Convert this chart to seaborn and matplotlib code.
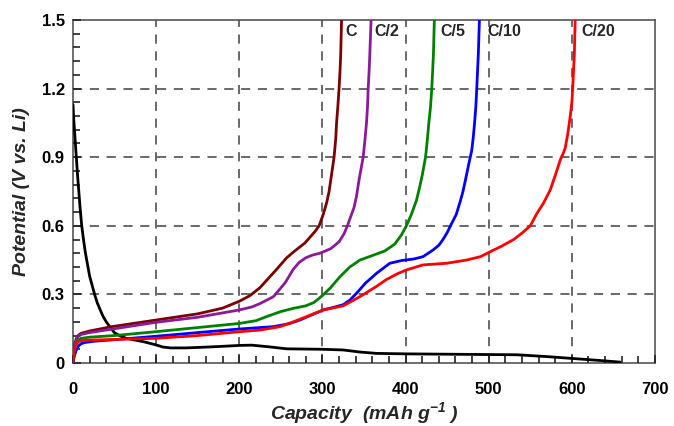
import matplotlib
matplotlib.use("Agg")
import matplotlib.pyplot as plt
import seaborn as sns
import numpy as np
import pandas as pd
from matplotlib.ticker import MultipleLocator, FuncFormatter

# ---- data (capacity mAh/g, potential V) ----
black_x = [0, 1, 2.5, 4, 5.5, 7, 8.5, 10.5, 13, 15, 17.5, 20, 23, 26, 29, 33, 36, 40, 45, 50, 57, 64, 75, 85, 100, 108, 117, 135, 150, 175, 201, 215, 235, 257, 300, 325, 345, 365, 400, 465, 534, 570, 600, 630, 658]
black_y = [1.13, 1.06, 0.98, 0.9, 0.82, 0.75, 0.68, 0.6, 0.53, 0.48, 0.43, 0.38, 0.34, 0.3, 0.265, 0.23, 0.205, 0.18, 0.155, 0.132, 0.118, 0.108, 0.1, 0.093, 0.079, 0.07, 0.066, 0.066, 0.068, 0.072, 0.077, 0.078, 0.071, 0.062, 0.06, 0.057, 0.048, 0.042, 0.04, 0.038, 0.036, 0.028, 0.02, 0.012, 0.004]

c1_x = [0, 1, 2, 3.5, 5, 7, 10, 20, 45, 100, 150, 180, 200, 213, 225, 235, 245, 257, 265, 272, 279, 285, 291, 296, 301, 305, 308, 310, 312, 314, 316, 317, 318.5, 320, 321.2, 322, 323]
c1_y = [0, 0.05, 0.08, 0.102, 0.115, 0.123, 0.13, 0.14, 0.158, 0.188, 0.215, 0.24, 0.27, 0.295, 0.33, 0.37, 0.41, 0.46, 0.485, 0.505, 0.525, 0.55, 0.575, 0.6, 0.65, 0.7, 0.75, 0.8, 0.85, 0.9, 0.98, 1.05, 1.12, 1.2, 1.28, 1.35, 1.5]

c2_x = [0, 1, 2, 3.5, 5, 7, 10, 20, 50, 100, 150, 200, 215, 225, 241, 248, 255, 260, 265, 272, 280, 288, 297, 310, 320, 326, 330, 334, 338, 341, 344, 347, 349, 351, 353, 354.2, 355, 356.2, 357, 358.5]
c2_y = [0, 0.04, 0.07, 0.093, 0.11, 0.118, 0.125, 0.133, 0.15, 0.178, 0.2, 0.232, 0.245, 0.26, 0.29, 0.32, 0.35, 0.38, 0.41, 0.44, 0.46, 0.472, 0.48, 0.5, 0.53, 0.565, 0.6, 0.64, 0.68, 0.73, 0.8, 0.86, 0.9, 0.97, 1.05, 1.12, 1.2, 1.28, 1.35, 1.5]

c5_x = [0, 1, 2, 3.5, 5, 7, 10, 20, 50, 100, 150, 200, 220, 233, 250, 265, 280, 290, 300, 310, 321, 333, 345, 360, 375, 387, 395, 401, 407, 413, 417, 420, 422, 424, 426, 428, 430, 431.5, 432.6, 433.5, 434.6]
c5_y = [0, 0.035, 0.06, 0.082, 0.095, 0.102, 0.108, 0.113, 0.12, 0.137, 0.155, 0.173, 0.185, 0.203, 0.225, 0.239, 0.25, 0.265, 0.295, 0.33, 0.377, 0.42, 0.45, 0.47, 0.49, 0.52, 0.56, 0.6, 0.65, 0.71, 0.77, 0.82, 0.86, 0.9, 0.97, 1.05, 1.12, 1.2, 1.28, 1.35, 1.5]

c10_x = [0, 1, 2, 3.5, 5, 7, 10, 15, 25, 50, 100, 150, 201, 241, 260, 273, 290, 301, 315, 325, 333, 341, 352, 365, 381, 395, 410, 421, 433, 440, 445, 450, 454, 461, 466, 469, 472, 476, 479.6, 481.5, 483, 484.5, 485.6, 487.5, 488.8]
c10_y = [0, 0.02, 0.035, 0.052, 0.065, 0.076, 0.085, 0.09, 0.095, 0.102, 0.117, 0.133, 0.149, 0.159, 0.172, 0.188, 0.215, 0.232, 0.245, 0.255, 0.275, 0.305, 0.35, 0.392, 0.436, 0.448, 0.455, 0.465, 0.494, 0.515, 0.54, 0.57, 0.6, 0.65, 0.71, 0.75, 0.8, 0.87, 0.93, 0.99, 1.05, 1.12, 1.2, 1.35, 1.5]

c20_x = [0, 1, 2, 3.5, 5, 7, 10, 20, 50, 100, 150, 201, 225, 249, 265, 281, 301, 325, 345, 365, 377, 390, 401, 421, 449, 473, 490, 502, 515, 530, 540, 550, 558, 566, 574, 580, 586, 590, 592, 595, 598, 600, 601, 602, 603, 604]
c20_y = [0, 0.035, 0.06, 0.077, 0.088, 0.094, 0.098, 0.1, 0.103, 0.108, 0.12, 0.137, 0.144, 0.159, 0.18, 0.203, 0.232, 0.25, 0.29, 0.335, 0.365, 0.39, 0.407, 0.429, 0.436, 0.45, 0.465, 0.487, 0.51, 0.54, 0.568, 0.6, 0.654, 0.7, 0.757, 0.82, 0.888, 0.92, 0.94, 1.0, 1.077, 1.14, 1.2, 1.28, 1.35, 1.5]

rate_labels = ["C", "C/2", "C/5", "C/10", "C/20"]
label_x = [328, 363, 441.5, 498, 611]
label_y = 1.45

series = [
    ("disch", black_x, black_y, "#000000"),
    ("C", c1_x, c1_y, "#7B0000"),
    ("C/2", c2_x, c2_y, "#8B1A9B"),
    ("C/5", c5_x, c5_y, "#008000"),
    ("C/10", c10_x, c10_y, "#0000FF"),
    ("C/20", c20_x, c20_y, "#FF0000"),
]

sns.set_style("ticks")
plt.rcParams["font.family"] = ["Liberation Sans", "DejaVu Sans"]
plt.rcParams["mathtext.fontset"] = "custom"
plt.rcParams["mathtext.rm"] = "Liberation Sans:italic:bold"
plt.rcParams["mathtext.it"] = "Liberation Sans:italic:bold"
plt.rcParams["mathtext.bf"] = "Liberation Sans:italic:bold"
plt.rcParams["mathtext.default"] = "rm"

fig = plt.figure(figsize=(6.74, 4.26), dpi=100)
ax = fig.add_axes([73/674, 63/426, 582/674, 343/426])

for name, xs, ys, col in series:
    df = pd.DataFrame({"x": xs, "y": ys})
    sns.lineplot(data=df, x="x", y="y", sort=False, estimator=None,
                 color=col, linewidth=2.0, ax=ax, zorder=3)

ax.set_xlim(0, 700)
ax.set_ylim(0, 1.5)
ax.set_axisbelow(False)

# grid (dashed) at major ticks
for gx in [100, 200, 300, 400, 500, 600]:
    ax.axvline(gx, color="#404040", linestyle=(0, (6, 5)), linewidth=1.1, zorder=1)
for gy in [0.3, 0.6, 0.9, 1.2]:
    ax.axhline(gy, color="#404040", linestyle=(0, (6, 5)), linewidth=1.1, zorder=1)

ax.xaxis.set_major_locator(MultipleLocator(100))
ax.xaxis.set_minor_locator(MultipleLocator(20))
ax.yaxis.set_major_locator(MultipleLocator(0.3))
ax.yaxis.set_minor_locator(MultipleLocator(0.06))
ax.yaxis.set_major_formatter(FuncFormatter(lambda v, p: "0" if abs(v) < 1e-9 else f"{v:.1f}"))
ax.tick_params(which="both", direction="in", bottom=True, left=True, top=False, right=False,
               color="#222222", labelcolor="black")
ax.tick_params(which="major", length=6, width=1.2)
ax.tick_params(which="minor", length=5, width=1.2)
ax.tick_params(axis="x", which="major", pad=14)
ax.tick_params(axis="y", which="major", pad=6)
for lab in ax.get_xticklabels() + ax.get_yticklabels():
    lab.set_fontweight("bold")
    lab.set_fontsize(12)

for s in ax.spines.values():
    s.set_color("#555555")
    s.set_linewidth(1.2)
    s.set_visible(True)

for lab, lx in zip(rate_labels, label_x):
    ax.text(lx, label_y, lab, fontsize=11.5, fontweight="bold", va="center", ha="left", zorder=4)

ax.set_xlabel(r"Capacity  (mAh g$^{-1}$ )", fontsize=14, fontweight="bold", style="italic", labelpad=2)
ax.set_ylabel("Potential (V vs. Li)", fontsize=14, fontweight="bold", style="italic", labelpad=8)

fig.savefig("out.png", dpi=100, facecolor="white")
